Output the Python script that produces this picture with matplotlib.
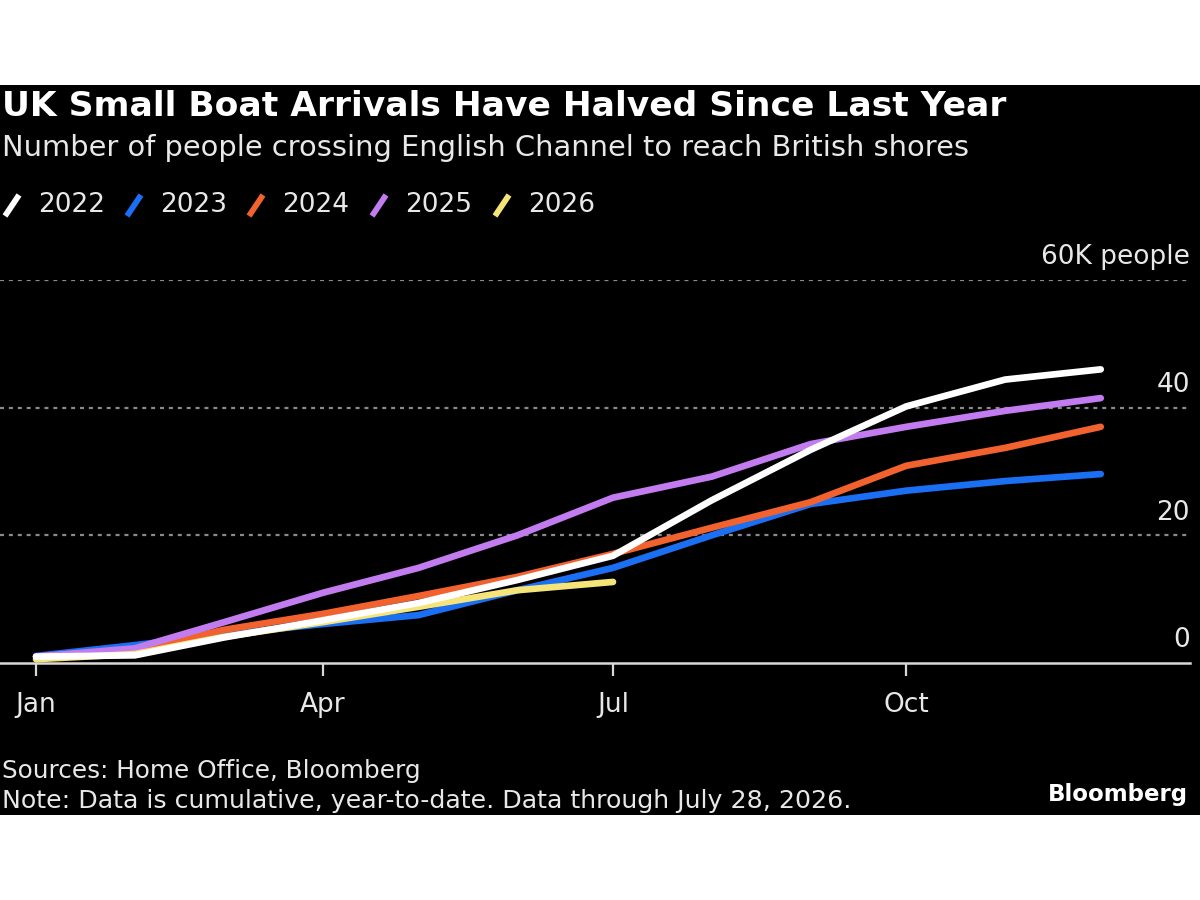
import numpy as np
import matplotlib
matplotlib.use("Agg")
import matplotlib.pyplot as plt
from matplotlib.lines import Line2D
from matplotlib.patches import Rectangle

# data: cumulative arrivals (thousands), first of each month
month_days = [0, 31, 59, 90, 120, 151, 181, 212, 243, 273, 304, 334]
y2022 = [1.0, 1.2, 4.0, 6.7, 9.4, 13.0, 16.8, 25.5, 33.4, 40.2, 44.4, 46.0]
y2023 = [1.1, 2.8, 4.5, 6.1, 7.5, 11.4, 14.9, 20.0, 24.9, 27.0, 28.5, 29.6]
y2024 = [1.0, 2.0, 5.2, 7.7, 10.5, 13.5, 17.1, 21.2, 25.2, 30.9, 33.7, 37.0]
y2025 = [1.0, 2.3, 6.4, 11.0, 14.9, 20.0, 25.9, 29.2, 34.3, 37.0, 39.5, 41.5]
y2026 = [0.6, 1.4, 4.1, 6.4, 8.8, 11.4, 12.7]

years = ["2022", "2023", "2024", "2025", "2026"]
series = [y2022, y2023, y2024, y2025, y2026]
colors = ["#ffffff", "#1a6ff2", "#f2622e", "#c27cf0", "#f5e47a"]

tick_days = [0, 90, 181, 273]
tick_labels = ["Jan", "Apr", "Jul", "Oct"]
y_ticks = [0, 20, 40, 60]
y_labels = ["0", "20", "40", "60K people"]

txt = "#e8e8e8"
plt.rcParams["font.family"] = ["DejaVu Sans"]

fig = plt.figure(figsize=(12, 9), dpi=100)
fig.patch.set_facecolor("white")
# black panel
fig.add_artist(Rectangle((0, 1 - 815 / 900), 1, 730 / 900, transform=fig.transFigure,
                         facecolor="black", edgecolor="none", zorder=-10))

ax = fig.add_axes([0, 1 - 663 / 900, 1190 / 1200, (663 - 280) / 900])
ax.set_facecolor("none")
ax.set_xlim(-11.3, 362)
ax.set_ylim(0, 60)

for i in range(len(series)):
    vals = series[i]
    ax.plot(month_days[:len(vals)], vals, color=colors[i], lw=4.8,
            solid_capstyle="round", solid_joinstyle="round", clip_on=False, zorder=3 + (i == 0))

# gridlines
for v in y_ticks[1:]:
    ax.axhline(v, color="#8a8a8a", lw=1.6, ls=(0, (1.8, 2.2)), zorder=1)
ax.axhline(0, color="#d8d8d8", lw=1.8, zorder=2, clip_on=False)
for lab, v in zip(y_labels, y_ticks):
    ax.annotate(lab, (1.0, v), xycoords=("axes fraction", "data"), xytext=(0, 7),
                textcoords="offset points", ha="right", va="bottom", color=txt, fontsize=19)

for s in ax.spines.values():
    s.set_visible(False)
ax.set_yticks([])
ax.set_xticks(tick_days)
ax.set_xticklabels(tick_labels)
ax.tick_params(axis="x", colors="#d8d8d8", length=9, width=1.6, pad=12, labelsize=19,
               labelcolor=txt)

# titles
fig.text(0.002, 1 - 107 / 900, "UK Small Boat Arrivals Have Halved Since Last Year",
         color="white", fontsize=24.8, fontweight="bold", va="center", ha="left")
fig.text(0.002, 1 - 148 / 900, "Number of people crossing English Channel to reach British shores",
         color=txt, fontsize=20.8, va="center", ha="left")

# legend
leg_x = [5, 127, 249, 372, 495]
for i in range(len(years)):
    x0 = leg_x[i]
    fig.add_artist(Line2D([x0 / 1200, (x0 + 14) / 1200], [1 - 216 / 900, 1 - 195 / 900],
                          transform=fig.transFigure, color=colors[i], lw=4.2, solid_capstyle="butt"))
    fig.text((x0 + 33) / 1200, 1 - 205 / 900, years[i], color=txt, fontsize=19,
             va="center", ha="left")

# footer
fig.text(0.002, 1 - 771 / 900, "Sources: Home Office, Bloomberg", color=txt, fontsize=17.8,
         va="center", ha="left")
fig.text(0.002, 1 - 801 / 900, "Note: Data is cumulative, year-to-date. Data through July 28, 2026.",
         color=txt, fontsize=18.2, va="center", ha="left")
fig.text(1188 / 1200, 1 - 795 / 900, "Bloomberg", color="white", fontsize=16.5,
         fontweight="bold", va="center", ha="right")

fig.savefig("out.png", dpi=100)
